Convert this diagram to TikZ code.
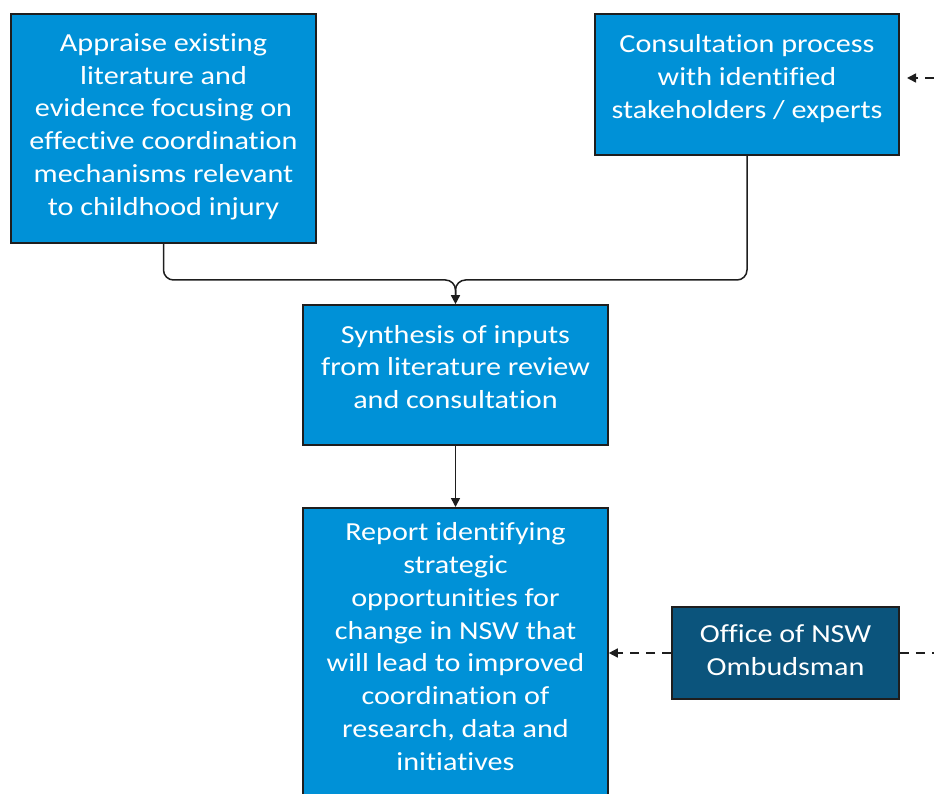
\documentclass[tikz,border=0pt]{standalone}
\usepackage{fontspec}
\setmainfont{Carlito}[FakeStretch=1.16, Ligatures=NoCommon]
\usetikzlibrary{arrows.meta,calc}
\definecolor{boxblue}{RGB}{0,145,215}
\definecolor{boxdark}{RGB}{11,84,124}
\definecolor{edge}{RGB}{30,30,30}
\tikzset{
  bluebox/.style={draw=edge, line width=1.6pt, fill=boxblue, inner sep=0pt},
  darkbox/.style={bluebox, fill=boxdark},
  boxtext/.style={align=center, text=white, inner sep=0pt, font=\fontsize{26}{32.8}\selectfont},
  conn/.style={draw=edge, line width=1.5pt, -{Triangle[length=9pt,width=9pt]}},
  dconn/.style={conn, dashed, dash pattern=on 9pt off 7pt},
}
\begin{document}
\begin{tikzpicture}[x=1pt,y=-1pt]
\useasboundingbox (0,0) rectangle (934,794);
\begin{scope}
\clip (0,0) rectangle (934,794);
\node[bluebox, minimum width=305pt, minimum height=229pt] (A) at (163.5,128.5) {};
\node[boxtext] (At) at (163.5,126.5)
  {Appraise existing\\literature and\\evidence focusing on\\effective coordination\\mechanisms relevant\\to childhood injury};
\node[bluebox, minimum width=304pt, minimum height=141pt] (B) at (747,84.5) {};
\node[boxtext] (Bt) at (747,78.5)
  {Consultation process\\with identified\\stakeholders / experts};
\node[bluebox, minimum width=305pt, minimum height=140pt] (C) at (455.5,375) {};
\node[boxtext] (Ct) at (455.5,367)
  {Synthesis of inputs\\from literature review\\and consultation};
\node[bluebox, minimum width=305pt, minimum height=310pt, anchor=north] (D) at (455.5,507) {};
\node[boxtext] (Dt) at (455.5,646.5)
  {Report identifying\\strategic\\opportunities for\\change in NSW that\\will lead to improved\\coordination of\\research, data and\\initiatives};
\node[darkbox, minimum width=227pt, minimum height=92pt] (E) at (785.5,653) {};
\node[boxtext] (Et) at (785.5,650.5) {Office of NSW\\Ombudsman};
\end{scope}
\coordinate (J) at (455.5,280);
\coordinate (R1) at (934,78);
\coordinate (R1t) at (907,78);
\coordinate (R2) at (934,653);
\draw[draw=edge, line width=1.5pt, rounded corners=10pt] (A.south) |- (J) -- ($(C.north)+(0,-8)$);
\draw[conn, rounded corners=10pt] (B.south) |- (J) -- (C.north);
\draw[conn] (C.south) -- (D.north);
\draw[dconn] (R1) -- (R1t);
\draw[dconn] (E.west) -- (D.east |- E.west);
\draw[dconn, -] (E.east) -- (R2);
\end{tikzpicture}
\end{document}
